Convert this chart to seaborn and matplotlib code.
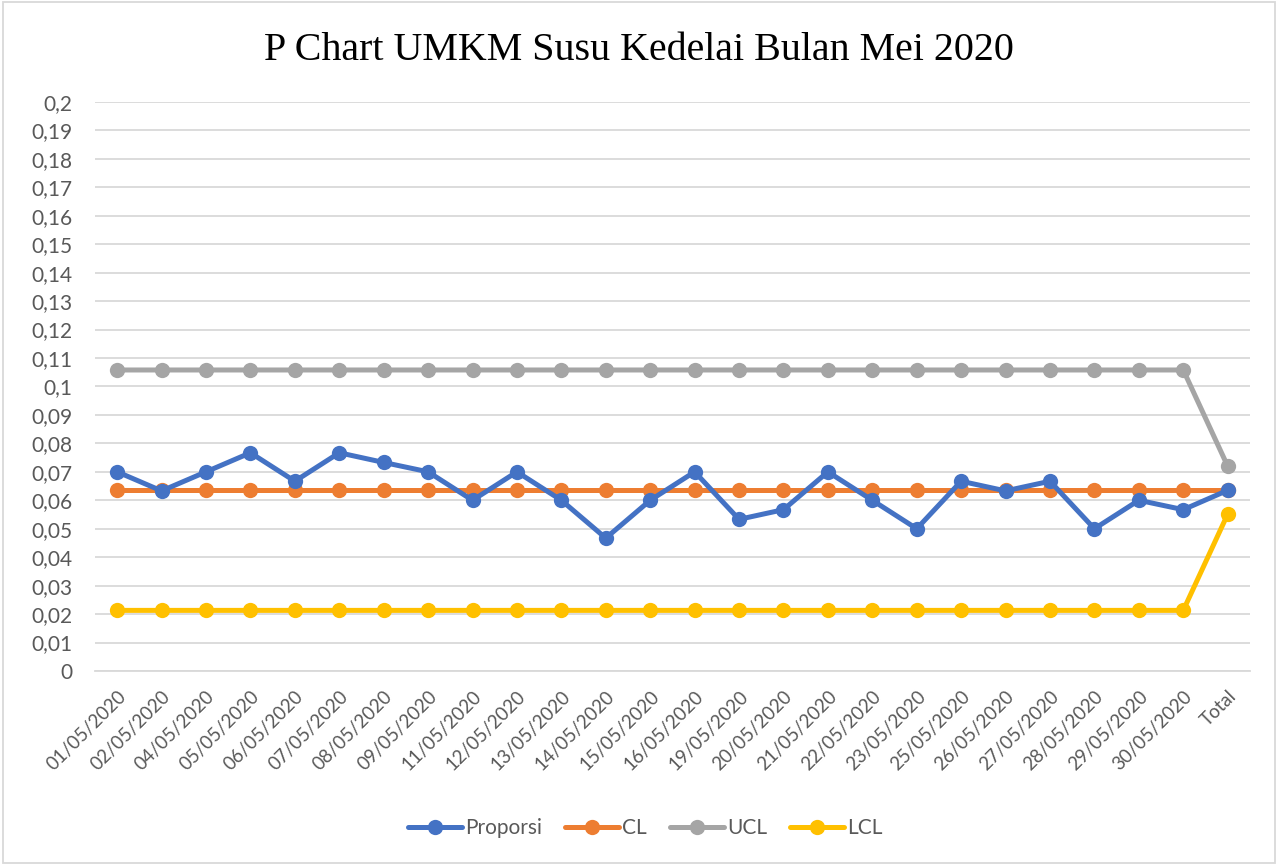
import numpy as np
import pandas as pd
import seaborn as sns
import matplotlib.pyplot as plt
from matplotlib.ticker import FixedLocator, FuncFormatter

# data
tanggal = ["01/05/2020", "02/05/2020", "04/05/2020", "05/05/2020", "06/05/2020",
           "07/05/2020", "08/05/2020", "09/05/2020", "11/05/2020", "12/05/2020",
           "13/05/2020", "14/05/2020", "15/05/2020", "16/05/2020", "19/05/2020",
           "20/05/2020", "21/05/2020", "22/05/2020", "23/05/2020", "25/05/2020",
           "26/05/2020", "27/05/2020", "28/05/2020", "29/05/2020", "30/05/2020",
           "Total"]
proporsi = [0.0700, 0.0633, 0.0700, 0.0767, 0.0667, 0.0767, 0.0733, 0.0700, 0.0600,
            0.0700, 0.0600, 0.0467, 0.0600, 0.0700, 0.0533, 0.0567, 0.0700, 0.0600,
            0.0500, 0.0667, 0.0633, 0.0667, 0.0500, 0.0600, 0.0567, 0.0635]
cl = [0.0635] * 26
ucl = [0.1058] * 25 + [0.0720]
lcl = [0.0213] * 25 + [0.0551]

series = {"Proporsi": proporsi, "CL": cl, "UCL": ucl, "LCL": lcl}
colors = {"Proporsi": "#4472C4", "CL": "#ED7D31", "UCL": "#A5A5A5", "LCL": "#FFC000"}

sns.set_style("white")
plt.rcParams["font.family"] = ["Lato", "DejaVu Sans"]

fig = plt.figure(figsize=(12.78, 8.65), dpi=100)
ax = fig.add_axes([0.0743, 0.2243, 0.9037, 0.6578])

x = np.arange(len(tanggal))
for name, vals in series.items():
    sns.lineplot(x=x, y=vals, ax=ax, color=colors[name], linewidth=3.6,
                 marker="o", markersize=11, markeredgewidth=0, label=name,
                 zorder=3 if name == "Proporsi" else 2)

ax.set_xlim(-0.5, len(tanggal) - 0.5)
ax.set_ylim(0, 0.2)
ax.set_yticks(np.arange(0, 0.2001, 0.01))
ax.yaxis.set_major_formatter(FuncFormatter(lambda v, p: f"{v:.2f}".rstrip("0").rstrip(".").replace(".", ",") if v else "0"))
ax.grid(axis="y", color="#D9D9D9", linewidth=1.3)
ax.set_axisbelow(True)

ax.set_xticks(x)
ax.set_xticklabels(tanggal, rotation=45, ha="right", rotation_mode="anchor")
ax.xaxis.set_minor_locator(FixedLocator(np.arange(-0.5, len(tanggal), 1)))
ax.tick_params(axis="x", which="major", length=0, pad=12, labelsize=13.5, labelcolor="#595959")
ax.tick_params(axis="x", which="minor", length=8, color="#D9D9D9", width=1.3)
ax.tick_params(axis="y", length=0, labelsize=15, labelcolor="#595959", pad=16)

for s in ["top", "right", "left"]:
    ax.spines[s].set_visible(False)
ax.spines["bottom"].set_color("#D9D9D9")
ax.spines["bottom"].set_linewidth(1.3)

fig.suptitle("P Chart UMKM Susu Kedelai Bulan Mei 2020", y=0.963,
             fontsize=28.8, family="Liberation Serif", color="black")

ax.legend(loc="center", ncol=4, frameon=False, fontsize=15, handlelength=2.6,
          columnspacing=1.1, labelcolor="#595959", handletextpad=0.15)
leg = ax.get_legend()
leg.set_bbox_to_anchor((0.505, 1 - 828 / 865), transform=fig.transFigure)

# outer chart border
fig.patches.append(plt.Rectangle((0.002, 0.002), 0.996, 0.996, transform=fig.transFigure,
                                 fill=False, edgecolor="#D9D9D9", linewidth=1.3))

plt.savefig("out.png", dpi=100)
